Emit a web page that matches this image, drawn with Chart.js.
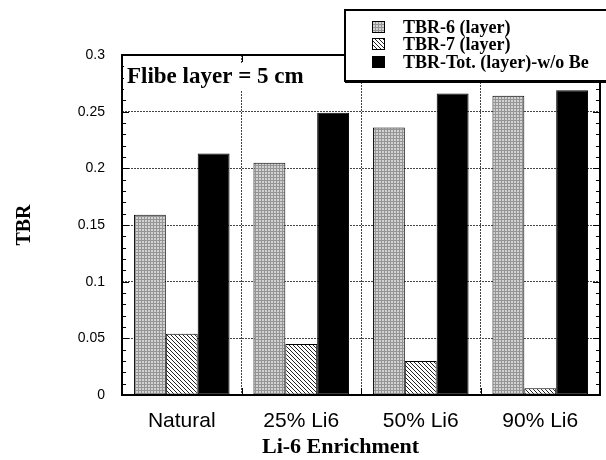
<!DOCTYPE html>
<html>
<head>
<meta charset="utf-8">
<script src="https://cdn.jsdelivr.net/npm/chart.js@4.4.1/dist/chart.umd.min.js"></script>
<style>
  html, body { margin: 0; padding: 0; background: #fff; }
  #wrap { width: 606px; height: 460px; }
</style>
</head>
<body>
<div id="wrap"><canvas id="tbrChart" width="606" height="460"></canvas></div>
<script>
const categories = ['Natural', '25% Li6', '50% Li6', '90% Li6'];
const tbr6 = [0.159, 0.205, 0.236, 0.264];
const tbr7 = [0.054, 0.045, 0.030, 0.006];
const tbrTot = [0.213, 0.249, 0.266, 0.269];
const seriesLabels = ['TBR-6 (layer)', 'TBR-7 (layer)', 'TBR-Tot. (layer)-w/o Be'];
const yTicks = [0, 0.05, 0.1, 0.15, 0.2, 0.25, 0.3];
const noteText = 'Flibe layer = 5 cm';
const xTitle = 'Li-6 Enrichment';
const yTitle = 'TBR';

const SERIF = '"Liberation Serif", "DejaVu Serif", serif';
const SANS = '"Liberation Sans", Arial, sans-serif';

const canvas = document.getElementById('tbrChart');
const ctx = canvas.getContext('2d');

// small tile patterns for the two hatched series
function tilePattern(size, draw) {
  const t = document.createElement('canvas');
  t.width = t.height = size;
  const g = t.getContext('2d');
  draw(g, size);
  return ctx.createPattern(t, 'repeat');
}

const grayFill = tilePattern(3, (g, n) => {
  g.fillStyle = '#d2d2d2';
  g.fillRect(0, 0, n, n);
  g.fillStyle = '#959595';
  g.fillRect(0, 0, n, 1);
  g.fillRect(0, 0, 1, n);
});

const hatchFill = tilePattern(4, (g, n) => {
  g.fillStyle = '#fff';
  g.fillRect(0, 0, n, n);
  g.fillStyle = '#222';
  for (let i = 0; i < n; i++) g.fillRect(i, i, 1, 1); // "\" diagonals
});

const fills = [grayFill, hatchFill, '#000'];

// frame, inward ticks, note box, legend box and axis titles
const decorations = {
  id: 'decorations',
  afterDatasetsDraw(chart) {
    const { ctx: c, chartArea: a, scales } = chart;
    const y = scales.y;
    c.save();

    // inward ticks on left/right (major every 0.05, minor every 0.01)
    c.strokeStyle = '#000';
    c.lineWidth = 1;
    for (let i = 0; i <= 30; i++) {
      const py = Math.round(y.getPixelForValue(i / 100)) + 0.5;
      const len = i % 5 === 0 ? 7 : 4;
      c.beginPath();
      c.moveTo(a.left, py); c.lineTo(a.left + len, py);
      c.moveTo(a.right, py); c.lineTo(a.right - len, py);
      c.stroke();
    }
    // ticks at category boundaries, top and bottom
    const step = (a.right - a.left) / categories.length;
    for (let k = 1; k < categories.length; k++) {
      const px = Math.round(a.left + k * step) + 0.5;
      c.beginPath();
      c.moveTo(px, a.bottom); c.lineTo(px, a.bottom - 7);
      c.moveTo(px, a.top); c.lineTo(px, a.top + 7);
      c.stroke();
    }

    // frame
    c.lineWidth = 2;
    c.strokeRect(a.left, a.top, a.right - a.left, a.bottom - a.top);

    // note in upper left
    c.font = 'bold 23px ' + SERIF;
    const w = c.measureText(noteText).width;
    c.fillStyle = '#fff';
    c.fillRect(a.left + 2, a.top + 8, w + 6, 28);
    c.fillStyle = '#000';
    c.textBaseline = 'middle';
    c.textAlign = 'left';
    c.fillText(noteText, a.left + 5, a.top + 22);

    // legend box, top right, overlapping the frame
    const lx = 345, ly = 10, lw = 270, lh = 71;
    c.fillStyle = '#fff';
    c.fillRect(lx, ly, lw, lh);
    c.lineWidth = 2;
    c.strokeStyle = '#000';
    c.strokeRect(lx, ly, lw, lh);
    c.fillStyle = '#000';
    c.fillRect(lx, ly + lh - 1, lw, 3);
    const rows = [27, 44, 62];
    c.font = 'bold 18px ' + SERIF;
    seriesLabels.forEach((lab, i) => {
      c.fillStyle = fills[i];
      c.fillRect(372, rows[i] - 6, 13, 12);
      c.lineWidth = 1;
      c.strokeRect(372.5, rows[i] - 5.5, 12, 11);
      c.fillStyle = '#000';
      c.fillText(lab, 403, rows[i] + 1);
    });

    // axis titles
    c.font = 'bold 22px ' + SERIF;
    c.textAlign = 'left';
    c.fillText(xTitle, 262, 447);
    c.font = 'bold 20px ' + SERIF;
    c.textAlign = 'center';
    c.translate(25, (a.top + a.bottom) / 2);
    c.rotate(-Math.PI / 2);
    c.fillText(yTitle, 0, 0);
    c.restore();
  }
};

new Chart(ctx, {
  type: 'bar',
  data: {
    labels: categories,
    datasets: [tbr6, tbr7, tbrTot].map((d, i) => ({
      label: seriesLabels[i],
      data: d,
      backgroundColor: fills[i],
      borderColor: '#000',
      borderWidth: 1,
      borderSkipped: false,
      categoryPercentage: 0.8,
      barPercentage: 1.0
    }))
  },
  options: {
    responsive: false,
    animation: false,
    devicePixelRatio: 1,
    layout: { padding: { left: 0, right: 6, top: 55, bottom: 0 } },
    plugins: { legend: { display: false }, tooltip: { enabled: false } },
    scales: {
      x: {
        offset: true,
        grid: { offset: true, color: '#444', lineWidth: 1, drawTicks: false },
        border: { display: false, dash: [2, 1] },
        ticks: { color: '#000', font: { family: SANS, size: 21 }, padding: 14 },
        afterFit: s => { s.height = 65; }
      },
      y: {
        min: 0,
        max: 0.3,
        afterBuildTicks: s => { s.ticks = yTicks.map(v => ({ value: v })); },
        grid: { color: '#444', lineWidth: 1, drawTicks: false },
        border: { display: false, dash: [2, 1] },
        ticks: {
          color: '#000',
          font: { family: SANS, size: 14 },
          padding: 17,
          callback: v => String(+Number(v).toFixed(2))
        },
        afterFit: s => { s.width = 122; }
      }
    }
  },
  plugins: [decorations]
});
</script>
</body>
</html>
